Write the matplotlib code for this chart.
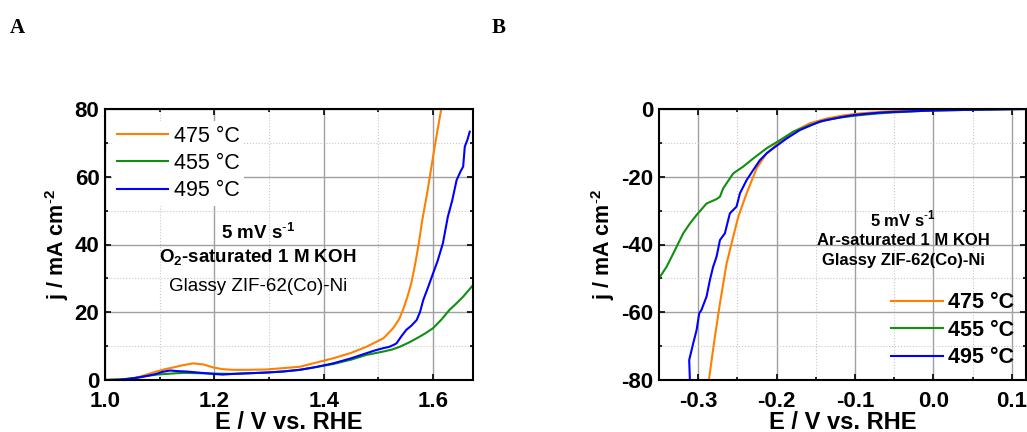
import numpy as np
import matplotlib
matplotlib.use('Agg')
import matplotlib.pyplot as plt
from matplotlib.ticker import MultipleLocator

plt.rcParams['font.family'] = ['Liberation Sans', 'DejaVu Sans']
plt.rcParams['axes.unicode_minus'] = False
plt.rcParams['mathtext.fontset'] = 'custom'
plt.rcParams['mathtext.rm'] = 'Liberation Sans'
plt.rcParams['mathtext.bf'] = 'Liberation Sans:bold'

labels = ["475 \u00b0C", "455 \u00b0C", "495 \u00b0C"]
colours = ["#ff8000", "#109010", "#0000ff"]

# panel A: OER polarisation curves (E vs RHE, j in mA cm-2)
oer_e_475 = [1.0, 1.03, 1.05, 1.064, 1.08, 1.094, 1.11, 1.125, 1.14, 1.161, 1.18, 1.198, 1.215,
             1.234, 1.26, 1.295, 1.356, 1.417, 1.45, 1.478, 1.509, 1.527, 1.538, 1.545, 1.553,
             1.56, 1.567, 1.574, 1.58, 1.589, 1.596, 1.603, 1.61, 1.615]
oer_j_475 = [0.0, 0.0, 0.4, 1.0, 1.8, 2.5, 3.2, 3.7, 4.3, 4.9, 4.6, 3.7, 3.2,
             3.0, 3.0, 3.1, 3.9, 6.4, 8.0, 9.8, 12.3, 15.3, 18.0, 20.7, 24.5,
             28.5, 34.0, 40.4, 47.0, 55.0, 62.0, 68.9, 75.5, 80.0]
oer_e_455 = [1.0, 1.033, 1.055, 1.076, 1.095, 1.113, 1.13, 1.145, 1.174, 1.2, 1.234, 1.265,
             1.295, 1.325, 1.356, 1.385, 1.417, 1.45, 1.478, 1.509, 1.525, 1.539, 1.555,
             1.57, 1.585, 1.6, 1.615, 1.63, 1.642, 1.655, 1.664, 1.673]
oer_j_455 = [0.0, 0.2, 0.6, 1.2, 1.6, 1.8, 2.0, 2.1, 2.0, 1.9, 1.8, 2.0,
             2.2, 2.5, 3.0, 3.8, 4.7, 6.0, 7.4, 8.4, 9.0, 9.8, 11.0,
             12.3, 13.7, 15.3, 17.8, 20.7, 22.5, 24.6, 26.3, 28.0]
oer_e_495 = [1.0, 1.027, 1.045, 1.064, 1.08, 1.094, 1.105, 1.119, 1.135, 1.149, 1.17, 1.198,
             1.215, 1.234, 1.265, 1.295, 1.325, 1.356, 1.385, 1.417, 1.45, 1.478, 1.495,
             1.509, 1.52, 1.527, 1.533, 1.542, 1.551, 1.56, 1.57, 1.576, 1.582, 1.59,
             1.6, 1.608, 1.618, 1.627, 1.635, 1.643, 1.65, 1.655, 1.658, 1.663, 1.667]
oer_j_495 = [0.0, 0.1, 0.4, 0.8, 1.3, 1.8, 2.4, 2.8, 2.6, 2.5, 2.2, 1.8,
             1.6, 1.8, 2.0, 2.2, 2.5, 3.0, 3.8, 4.9, 6.4, 7.9, 8.8,
             9.4, 9.8, 10.3, 10.8, 12.9, 14.8, 16.0, 17.7, 20.0, 23.6, 27.0,
             31.5, 35.0, 40.4, 48.2, 53.0, 59.0, 61.5, 63.0, 68.9, 71.0, 73.3]

# panel B: HER polarisation curves
her_e_475 = [-0.2864, -0.2787, -0.2723, -0.2638, -0.2574, -0.2489, -0.2383, -0.2255,
             -0.2128, -0.1957, -0.1787, -0.1574, -0.1362, -0.115, -0.0936, -0.07, -0.051,
             -0.03, -0.0085, 0.034, 0.07, 0.102, 0.118]
her_j_475 = [-80.0, -67.2, -57.4, -45.6, -39.6, -31.8, -24.9, -17.5,
             -13.1, -9.6, -6.7, -4.2, -2.8, -1.9, -1.3, -0.9, -0.6,
             -0.4, -0.3, -0.1, -0.05, 0.0, 0.0]
her_e_455 = [-0.35, -0.3404, -0.3319, -0.3255, -0.3191, -0.3106, -0.3021, -0.2894,
             -0.2766, -0.2723, -0.2681, -0.2553, -0.2426, -0.2298, -0.2128, -0.1957,
             -0.1787, -0.1574, -0.1362, -0.115, -0.0936, -0.07, -0.051, -0.0085, 0.055,
             0.118]
her_j_455 = [-50.0, -46.6, -42.7, -39.7, -36.7, -33.8, -31.3, -27.9,
             -26.6, -25.9, -23.4, -19.0, -17.0, -14.6, -11.6, -9.2,
             -6.7, -4.7, -3.2, -2.4, -1.8, -1.3, -1.0, -0.5, -0.2,
             0.0]
her_e_495 = [-0.3106, -0.3115, -0.3064, -0.3021, -0.2987, -0.296, -0.2894, -0.2851,
             -0.281, -0.2766, -0.2723, -0.266, -0.2596, -0.2511, -0.2468, -0.2383,
             -0.2298, -0.2213, -0.2128, -0.2043, -0.1872, -0.1702, -0.1447, -0.12, -0.1021,
             -0.08, -0.0638, -0.0085, 0.055, 0.118]
her_j_495 = [-80.0, -74.1, -69.2, -65.3, -60.3, -59.4, -55.4, -50.5,
             -46.6, -43.6, -38.7, -36.7, -30.8, -28.8, -24.9, -21.0,
             -18.0, -15.1, -13.1, -11.6, -8.7, -6.2, -3.7, -2.5, -1.8,
             -1.3, -1.0, -0.5, -0.2, 0.0]


def style_axes(ax):
    ax.grid(which='major', color='#a0a0a0', lw=1.0)
    ax.grid(which='minor', color='#c8c8c8', lw=0.8, ls=':')
    ax.set_axisbelow(True)
    ax.tick_params(which='both', direction='in', top=True, right=True, labelsize=16, width=1.2)
    ax.tick_params(which='major', length=4)
    ax.tick_params(which='minor', length=2.5)
    ax.tick_params(axis='x', pad=8)
    ax.tick_params(axis='y', pad=4)
    for lab in ax.get_xticklabels() + ax.get_yticklabels():
        lab.set_fontweight('bold')
    for sp in ax.spines.values():
        sp.set_linewidth(1.5)
    ax.set_xlabel("E / V vs. RHE", fontsize=17, fontweight='bold', labelpad=-1)
    ax.set_ylabel("j / mA cm$^{\\mathbf{\\text{-}2}}$", fontsize=15.5, fontweight='bold', labelpad=3)


fig = plt.figure(figsize=(10.27, 4.32), dpi=100)
W, H = 1027.0, 432.0
axA = fig.add_axes([105 / W, 1 - 380 / H, 368 / W, 271 / H])
axB = fig.add_axes([659 / W, 1 - 380 / H, 367 / W, 271 / H])

# --- A ---
oer = [(oer_e_475, oer_j_475), (oer_e_455, oer_j_455), (oer_e_495, oer_j_495)]
for (e, j), c, l in zip(oer, colours, labels):
    axA.plot(e, j, color=c, lw=1.5, label=l)
axA.set_xlim(1.0, 1.673)
axA.set_ylim(0, 80)
axA.xaxis.set_minor_locator(MultipleLocator(0.1))
axA.yaxis.set_major_locator(MultipleLocator(20))
axA.yaxis.set_minor_locator(MultipleLocator(10))
axA.set_xticks([1.0, 1.2, 1.4, 1.6])
style_axes(axA)
legA = axA.legend(loc='upper left', bbox_to_anchor=(0.02, 0.955), fontsize=15.5, frameon=True,
                  handlelength=2.4, handletextpad=0.25, labelspacing=0.3, borderpad=0.2,
                  borderaxespad=0.0)
legA.get_frame().set_edgecolor('none')
legA.get_frame().set_alpha(1.0)
legA.get_frame().set_boxstyle('square', pad=0)
axA.text(0.415, 0.545, "5 mV s$^{\\mathbf{\\text{-}1}}$", transform=axA.transAxes, ha='center',
         va='center', fontsize=13.5, fontweight='bold')
axA.text(0.415, 0.45, "O$_{\\mathbf{2}}$-saturated 1 M KOH", transform=axA.transAxes, ha='center',
         va='center', fontsize=13.5, fontweight='bold')
axA.text(0.415, 0.345, "Glassy ZIF-62(Co)-Ni", transform=axA.transAxes, ha='center', va='center',
         fontsize=13.5)

# --- B ---
her = [(her_e_475, her_j_475), (her_e_455, her_j_455), (her_e_495, her_j_495)]
for (e, j), c, l in zip(her, colours, labels):
    axB.plot(e, j, color=c, lw=1.5, label=l)
axB.set_xlim(-0.35, 0.118)
axB.set_ylim(-80, 0)
axB.xaxis.set_major_locator(MultipleLocator(0.1))
axB.xaxis.set_minor_locator(MultipleLocator(0.05))
axB.yaxis.set_major_locator(MultipleLocator(20))
axB.yaxis.set_minor_locator(MultipleLocator(10))
style_axes(axB)
legB = axB.legend(loc='lower right', frameon=False, prop={'weight': 'bold', 'size': 15.5},
                  handlelength=2.4, handletextpad=0.25, labelspacing=0.3, borderaxespad=0.15)
axB.text(0.665, 0.595, "5 mV s$^{\\mathbf{\\text{-}1}}$", transform=axB.transAxes, ha='center',
         va='center', fontsize=12, fontweight='bold')
axB.text(0.665, 0.515, "Ar-saturated 1 M KOH", transform=axB.transAxes, ha='center', va='center',
         fontsize=12, fontweight='bold')
axB.text(0.665, 0.44, "Glassy ZIF-62(Co)-Ni", transform=axB.transAxes, ha='center', va='center',
         fontsize=12, fontweight='bold')

fig.text(10 / W, 1 - 28 / H, "A", family='Liberation Serif', fontweight='bold', fontsize=15,
         va='center', ha='left')
fig.text(492 / W, 1 - 28 / H, "B", family='Liberation Serif', fontweight='bold', fontsize=15,
         va='center', ha='left')

fig.savefig("out.png", dpi=100)
